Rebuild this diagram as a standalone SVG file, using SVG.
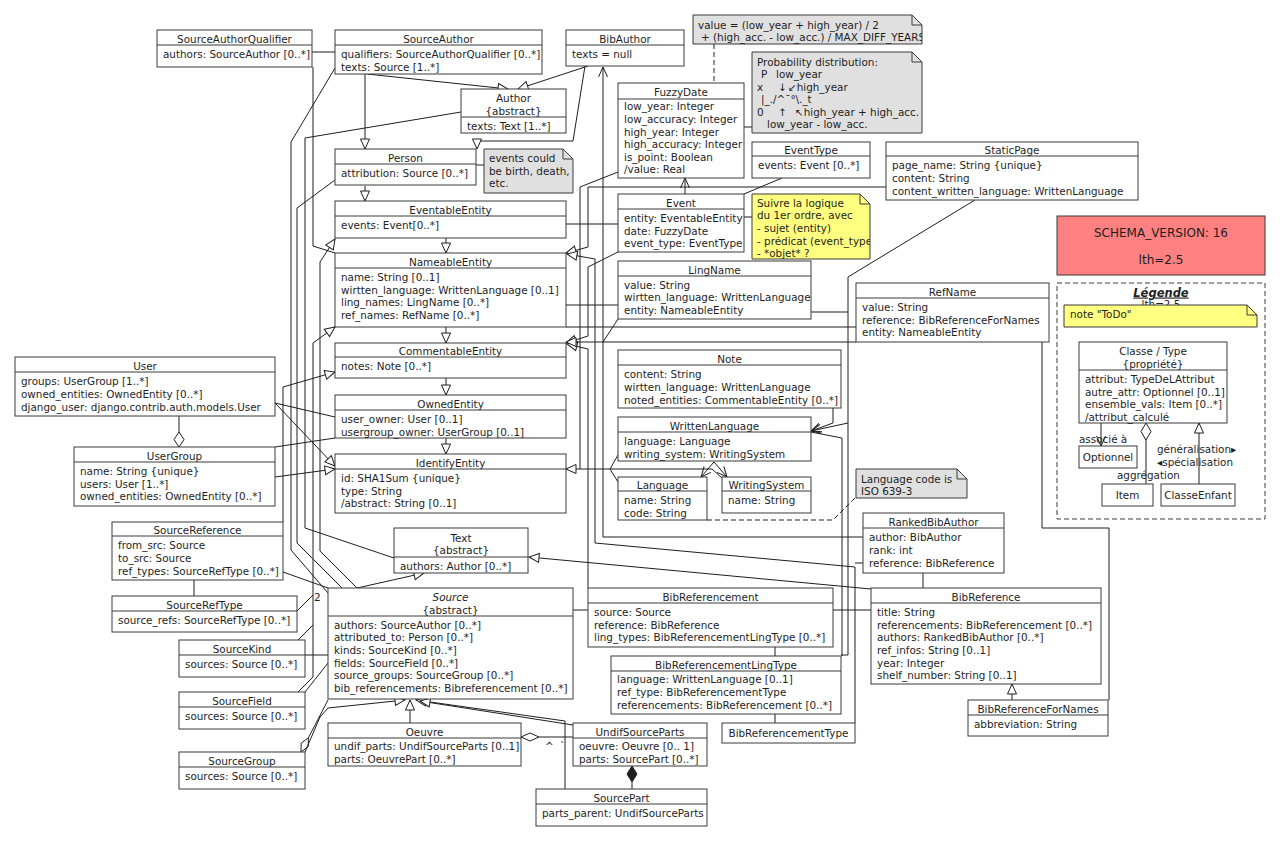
<svg xmlns="http://www.w3.org/2000/svg" width="1280" height="841" viewBox="0 0 1280 841">
<defs>
<style>
.b{fill:#fff;stroke:#3a3a3a;stroke-width:1}
.s{stroke:#3a3a3a;stroke-width:1;fill:none}
text{font-family:"DejaVu Sans","Liberation Sans",sans-serif;font-size:10.4px;fill:#1e1e1e}
.c{text-anchor:middle}
.l{stroke:#1e1e1e;stroke-width:1;fill:none}
.d{stroke-dasharray:5,3}
.ng{fill:#e0e0e0;stroke:#3a3a3a}
.ny{fill:#ffff80;stroke:#3a3a3a}
.t{marker-end:url(#tri)}
.a{marker-end:url(#arr)}
</style>
<marker id="tri" markerUnits="userSpaceOnUse" markerWidth="12" markerHeight="12" viewBox="0 0 12 12" refX="11" refY="6" orient="auto"><path d="M1,1.5 L11,6 L1,10.5 Z" fill="#fff" stroke="#1e1e1e"/></marker>
<marker id="arr" markerUnits="userSpaceOnUse" markerWidth="12" markerHeight="12" viewBox="0 0 12 12" refX="11" refY="6" orient="auto"><path d="M1,1.5 L11,6 L1,10.5" fill="none" stroke="#1e1e1e"/></marker>
<clipPath id="cv"><rect x="693" y="15" width="229" height="30"/></clipPath>
<clipPath id="cy"><rect x="752" y="194" width="118" height="66"/></clipPath>
</defs>
<rect width="1280" height="841" fill="#fff"/>

<g id="connectors">
<path class="l" d="M312,52H335"/>
<path class="l" d="M313,67V246L335,253"/>
<path class="l t" d="M357,588L320,551V262L335,239"/>
<path class="l" d="M335,68L291,142V550L328,593"/>
<path class="l" d="M335,180L297,208V543L342,588"/>
<path class="l" d="M461,112L305,138V528L394,558"/>
<path class="l t" d="M357,588L424,573"/>
<path class="l t" d="M365,74V149"/>
<path class="l t" d="M367,74L508,89"/>
<path class="l t" d="M588,66L518,89"/>
<path class="l t" d="M585,66L573,141H477V149"/>
<path class="l t" d="M365,186V201"/>
<path class="l" d="M476,165H484"/>
<path class="l t" d="M446,238V253"/>
<path class="l t" d="M446,327V343"/>
<path class="l t" d="M446,378V395"/>
<path class="l t" d="M446,438V454"/>
<path class="l t" d="M298,640L313,625V343L335,327"/>
<path class="l" d="M298,692L313,677V625"/>
<path class="l" d="M297,611L313,595"/>
<text x="314" y="601">2</text>
<path class="l" d="M305,655H328"/>
<path class="l" d="M305,692L328,663"/>
<polygon class="l" style="fill:#fff" points="301,752 308.2,746.7 308.4,737.8 301.2,743.1"/>
<path class="l" d="M308.4,737.8L328,700"/>
<path class="l t" d="M305,752L320,717L328,708L405,700"/>
<path class="l t" d="M410,723V700"/>
<path class="l t" d="M565,789V721L416,700"/>
<path class="l t" d="M573,725L420,701"/>
<polygon class="l" style="fill:#fff" points="521,737 530,733 539,737 530,741"/>
<path class="l" d="M539,737H573"/>
<text x="545" y="750">^</text>
<text x="560" y="750">`</text>
<polygon class="l" style="fill:#1e1e1e" points="632,766 637,774 632,782 627,774"/>
<path class="l" d="M632,782V789"/>
<path class="l" d="M573,610H588"/>
<path class="l" d="M833,610H871"/>
<path class="l" d="M775,647V656"/>
<path class="l" d="M775,714V723"/>
<path class="l" d="M923,573V588"/>
<path class="l t" d="M1012,700V684"/>
<path class="l" d="M1042,342V528H1109V700"/>
<path class="l d" d="M707,520H833L856,497"/>
<path class="l" d="M179,416V432"/>
<polygon class="l" style="fill:#fff" points="179,432 184,439.5 179,447 174,439.5"/>
<path class="l" d="M275,403L335,417"/>
<path class="l t" d="M275,403L335,466"/>
<path class="l" d="M275,447L335,438"/>
<path class="l t" d="M275,477L335,469"/>
<path class="l t" d="M283,522V387L335,372"/>
<path class="l" d="M283,572L328,588"/>
<path class="l" d="M194,580V596"/>
<path class="l" d="M566,224H618"/>
<path class="l a" d="M685,194V178"/>
<path class="l" d="M744,194L782,178"/>
<path class="l" d="M744,217H752"/>
<path class="l" d="M744,127H752"/>
<path class="l d" d="M714,44V83"/>
<path class="l t" d="M886,187H588V247L566,253"/>
<path class="l" d="M618,172L580,187V469"/>
<path class="l t" d="M722,478L712,469H566"/>
<path class="l" d="M618,455L610,469L618,482"/>
<path class="l t" d="M618,252L588,267V336L566,343"/>
<path class="l t" d="M588,588V349L567,344"/>
<path class="l t" d="M856,342H566"/>
<path class="l" d="M856,327H566"/>
<path class="l" d="M566,305H618"/>
<path class="l" d="M811,312H848"/>
<path class="l a" d="M975,200L848,277V423L811,431"/>
<path class="l a" d="M833,408V423L811,431"/>
<path class="l" d="M811,432L842,438V656"/>
<path class="l" d="M848,423V655H841"/>
<path class="l a" d="M714,462L701,477"/>
<path class="l a" d="M714,462L727,477"/>
<path class="l t" d="M855,723V567L595,543V259L567,254"/>
<path class="l" d="M863,563H855"/>
<path class="l a" d="M863,537H603V67"/>
<path class="l" d="M618,319L603,342"/>
<path class="l t" d="M871,589L529,557"/>
<path class="l a" d="M1101,423V446"/>
<polygon class="l" style="fill:#fff" points="1146,423 1151,431.5 1146,440 1141,431.5"/>
<path class="l" d="M1146,440V484"/>
<path class="l t" d="M1199,484V423"/>
</g>

<g id="SourceAuthorQualifier"><rect class="b" x="157" y="30" width="155" height="37"/><path class="s" d="M157,45H312"/><text class="c" x="234.5" y="42.5">SourceAuthorQualifier</text><text x="163" y="58">authors: SourceAuthor [0..*]</text></g>
<g id="SourceAuthor"><rect class="b" x="335" y="30" width="207" height="44"/><path class="s" d="M335,45H542"/><text class="c" x="438.5" y="42.5">SourceAuthor</text><text x="341" y="58">qualifiers: SourceAuthorQualifier [0..*]</text><text x="341" y="70.6">texts: Source [1..*]</text></g>
<g id="BibAuthor"><rect class="b" x="566" y="30" width="118" height="36"/><path class="s" d="M566,45H684"/><text class="c" x="625" y="42.5">BibAuthor</text><text x="572" y="58">texts = null</text></g>
<g id="Author"><rect class="b" x="461" y="89" width="105" height="44"/><path class="s" d="M461,117H566"/><text class="c" x="513.5" y="102">Author</text><text class="c" x="513.5" y="114.5">{abstract}</text><text x="467" y="130">texts: Text [1..*]</text></g>
<g id="Person"><rect class="b" x="335" y="149" width="141" height="36"/><path class="s" d="M335,164H476"/><text class="c" x="405.5" y="161.5">Person</text><text x="341" y="177">attribution: Source [0..*]</text></g>
<g id="note-events"><path class="ng" d="M484,149H563L573,159V193H484Z"/><path class="s" d="M563,149V159H573"/><text x="489" y="162">events could</text><text x="489" y="174.7">be birth, death,</text><text x="489" y="187.4">etc.</text></g>
<g id="EventableEntity"><rect class="b" x="335" y="201" width="231" height="37"/><path class="s" d="M335,216H566"/><text class="c" x="450.5" y="213.5">EventableEntity</text><text x="341" y="229">events: Event[0..*]</text></g>
<g id="NameableEntity"><rect class="b" x="335" y="253" width="231" height="74"/><path class="s" d="M335,268H566"/><text class="c" x="450.5" y="265.5">NameableEntity</text><text x="341" y="281">name: String [0..1]</text><text x="341" y="293.6">wirtten_language: WrittenLanguage [0..1]</text><text x="341" y="306.2">ling_names: LingName [0..*]</text><text x="341" y="318.8">ref_names: RefName [0..*]</text></g>
<g id="CommentableEntity"><rect class="b" x="335" y="343" width="231" height="35"/><path class="s" d="M335,357H566"/><text class="c" x="450.5" y="354.5">CommentableEntity</text><text x="341" y="370">notes: Note [0..*]</text></g>
<g id="OwnedEntity"><rect class="b" x="335" y="395" width="231" height="43"/><path class="s" d="M335,410H566"/><text class="c" x="450.5" y="407.5">OwnedEntity</text><text x="341" y="423">user_owner: User [0..1]</text><text x="341" y="435.6">usergroup_owner: UserGroup [0..1]</text></g>
<g id="IdentifyEntity"><rect class="b" x="335" y="454" width="231" height="59"/><path class="s" d="M335,469H566"/><text class="c" x="450.5" y="466.5">IdentifyEntity</text><text x="341" y="482">id: SHA1Sum  {unique}</text><text x="341" y="494.6">type: String</text><text x="341" y="507.2">/abstract: String [0..1]</text></g>
<g id="Text"><rect class="b" x="394" y="528" width="134" height="45"/><path class="s" d="M394,557H528"/><text class="c" x="461" y="542">Text</text><text class="c" x="461" y="554.4">{abstract}</text><text x="400" y="569.5">authors: Author [0..*]</text></g>
<g id="Source"><rect class="b" x="328" y="588" width="245" height="111"/><path class="s" d="M328,616H573"/><text class="c" x="450.5" y="601" font-style="italic">Source</text><text class="c" x="450.5" y="613.7">{abstract}</text><text x="334" y="628.7">authors: SourceAuthor [0..*]</text><text x="334" y="641.4">attributed_to: Person [0..*]</text><text x="334" y="654">kinds: SourceKind [0..*]</text><text x="334" y="666.6">fields: SourceField [0..*]</text><text x="334" y="679.2">source_groups: SourceGroup [0..*]</text><text x="334" y="691.8">bib_referencements: Bibreferencement [0..*]</text></g>
<g id="FuzzyDate"><rect class="b" x="618" y="83" width="126" height="95"/><path class="s" d="M618,99H744"/><text class="c" x="681" y="96">FuzzyDate</text><text x="624" y="110.4">low_year: Integer</text><text x="624" y="123">low_accuracy: Integer</text><text x="624" y="135.5">high_year: Integer</text><text x="624" y="148">high_accuracy: Integer</text><text x="624" y="160.5">is_point: Boolean</text><text x="624" y="173">/value: Real</text></g>
<g id="note-value"><path class="ng" d="M693,15H912L922,25V44H693Z"/><path class="s" d="M912,15V25H922"/><g clip-path="url(#cv)"><text x="698" y="29">value = (low_year + high_year) / 2</text><text x="701" y="40.5">+ (high_acc. - low_acc.) / MAX_DIFF_YEARS</text></g></g>
<g id="note-proba"><path class="ng" d="M752,52H912L922,62V133H752Z"/><path class="s" d="M912,52V62H922"/><text x="757" y="65.5">Probability distribution:</text><text x="761" y="78">P</text><text x="776" y="78">low_year</text><text x="757" y="90.5">x</text><text x="778" y="90.5">↓</text><text x="788" y="90.5">↙high_year</text><text x="761" y="103">|_./^¯°\._t</text><text x="757" y="115.5">0</text><text x="778" y="115.5">↑</text><text x="795" y="115.5">↖high_year + high_acc.</text><text x="767" y="128">low_year - low_acc.</text></g>
<g id="EventType"><rect class="b" x="752" y="142" width="118" height="36"/><path class="s" d="M752,156H870"/><text class="c" x="811" y="153.5">EventType</text><text x="758" y="169">events: Event [0..*]</text></g>
<g id="StaticPage"><rect class="b" x="886" y="142" width="252" height="58"/><path class="s" d="M886,156H1138"/><text class="c" x="1012" y="153.5">StaticPage</text><text x="892" y="169">page_name: String {unique}</text><text x="892" y="181.8">content: String</text><text x="892" y="194.5">content_written_language: WrittenLanguage</text></g>
<g id="Event"><rect class="b" x="618" y="194" width="126" height="58"/><path class="s" d="M618,209H744"/><text class="c" x="681" y="206.5">Event</text><text x="624" y="222">entity: EventableEntity</text><text x="624" y="234.5">date: FuzzyDate</text><text x="624" y="247">event_type: EventType</text></g>
<g id="note-logique"><path class="ny" d="M752,194H860L870,204V259H752Z"/><path class="s" d="M860,194V204H870"/><g clip-path="url(#cy)"><text x="757" y="206.5">Suivre la logique</text><text x="757" y="219.3">du 1er ordre, avec</text><text x="757" y="232">- sujet (entity)</text><text x="757" y="244.7">- prédicat (event_type)</text><text x="757" y="257.2">- *objet* ?</text></g></g>
<g id="LingName"><rect class="b" x="618" y="261" width="193" height="58"/><path class="s" d="M618,276H811"/><text class="c" x="714.5" y="273.5">LingName</text><text x="624" y="288.7">value: String</text><text x="624" y="301.4">wirtten_language: WrittenLanguage</text><text x="624" y="314">entity: NameableEntity</text></g>
<g id="Note"><rect class="b" x="618" y="350" width="223" height="58"/><path class="s" d="M618,365H841"/><text class="c" x="729.5" y="362.5">Note</text><text x="624" y="378">content: String</text><text x="624" y="391">wirtten_language: WrittenLanguage</text><text x="624" y="403.7">noted_entities: CommentableEntity [0..*]</text></g>
<g id="WrittenLanguage"><rect class="b" x="618" y="417" width="193" height="44"/><path class="s" d="M618,432H811"/><text class="c" x="714.5" y="429.5">WrittenLanguage</text><text x="624" y="445.4">language: Language</text><text x="624" y="458">writing_system: WritingSystem</text></g>
<g id="Language"><rect class="b" x="618" y="477" width="89" height="43"/><path class="s" d="M618,491H707"/><text class="c" x="662.5" y="488.5">Language</text><text x="624" y="504.4">name: String</text><text x="624" y="517">code: String</text></g>
<g id="WritingSystem"><rect class="b" x="722" y="477" width="89" height="36"/><path class="s" d="M722,491H811"/><text class="c" x="766.5" y="488.5">WritingSystem</text><text x="728" y="504.4">name: String</text></g>
<g id="note-iso"><path class="ng" d="M856,469H957L967,479V498H856Z"/><path class="s" d="M957,469V479H967"/><text x="861" y="482.5">Language code is</text><text x="861" y="494.5">ISO 639-3</text></g>
<g id="RefName"><rect class="b" x="856" y="283" width="193" height="59"/><path class="s" d="M856,298H1049"/><text class="c" x="952.5" y="295.5">RefName</text><text x="862" y="311">value: String</text><text x="862" y="323.7">reference: BibReferenceForNames</text><text x="862" y="336.2">entity: NameableEntity</text></g>
<g id="RankedBibAuthor"><rect class="b" x="863" y="513" width="141" height="60"/><path class="s" d="M863,528H1004"/><text class="c" x="933.5" y="525.5">RankedBibAuthor</text><text x="869" y="541.4">author: BibAuthor</text><text x="869" y="554.2">rank: int</text><text x="869" y="567">reference: BibReference</text></g>
<g id="BibReference"><rect class="b" x="871" y="588" width="230" height="96"/><path class="s" d="M871,603H1101"/><text class="c" x="986" y="600.5">BibReference</text><text x="877" y="616">title: String</text><text x="877" y="628.7">referencements: BibReferencement [0..*]</text><text x="877" y="641.4">authors: RankedBibAuthor [0..*]</text><text x="877" y="654">ref_infos: String [0..1]</text><text x="877" y="666.7">year: Integer</text><text x="877" y="679.4">shelf_number: String [0..1]</text></g>
<g id="BibReferenceForNames"><rect class="b" x="968" y="700" width="140" height="36"/><path class="s" d="M968,715H1108"/><text class="c" x="1038" y="712.5">BibReferenceForNames</text><text x="974" y="728">abbreviation: String</text></g>
<g id="BibReferencement"><rect class="b" x="588" y="588" width="245" height="59"/><path class="s" d="M588,603H833"/><text class="c" x="710.5" y="600.5">BibReferencement</text><text x="594" y="616.4">source: Source</text><text x="594" y="628.9">reference: BibReference</text><text x="594" y="641.4">ling_types: BibReferencementLingType [0..*]</text></g>
<g id="BibReferencementLingType"><rect class="b" x="611" y="656" width="230" height="58"/><path class="s" d="M611,671H841"/><text class="c" x="726" y="668.5">BibReferencementLingType</text><text x="617" y="683">language: WrittenLanguage [0..1]</text><text x="617" y="695.7">ref_type: BibReferencementType</text><text x="617" y="708.5">referencements: BibReferencement [0..*]</text></g>
<g id="BibReferencementType"><rect class="b" x="722" y="723" width="133" height="20"/><text class="c" x="788.5" y="737">BibReferencementType</text></g>
<g id="UndifSourceParts"><rect class="b" x="573" y="723" width="134" height="43"/><path class="s" d="M573,738H707"/><text class="c" x="640" y="735.5">UndifSourceParts</text><text x="579" y="749.7">oeuvre: Oeuvre [0.. 1]</text><text x="579" y="763">parts: SourcePart [0..*]</text></g>
<g id="SourcePart"><rect class="b" x="536" y="789" width="171" height="37"/><path class="s" d="M536,804H707"/><text class="c" x="621.5" y="801.5">SourcePart</text><text x="542" y="817">parts_parent: UndifSourceParts</text></g>
<g id="Oeuvre"><rect class="b" x="328" y="723" width="193" height="43"/><path class="s" d="M328,738H521"/><text class="c" x="424.5" y="735.5">Oeuvre</text><text x="334" y="749.7">undif_parts: UndifSourceParts [0..1]</text><text x="334" y="763">parts: OeuvrePart [0..*]</text></g>
<g id="SourceReference"><rect class="b" x="112" y="522" width="171" height="58"/><path class="s" d="M112,536H283"/><text class="c" x="197.5" y="533.5">SourceReference</text><text x="118" y="549.4">from_src: Source</text><text x="118" y="561.6">to_src: Source</text><text x="118" y="574.7">ref_types: SourceRefType [0..*]</text></g>
<g id="SourceRefType"><rect class="b" x="112" y="596" width="185" height="36"/><path class="s" d="M112,611H297"/><text class="c" x="204.5" y="608.5">SourceRefType</text><text x="118" y="623.7">source_refs: SourceRefType [0..*]</text></g>
<g id="SourceKind"><rect class="b" x="179" y="640" width="126" height="37"/><path class="s" d="M179,655H305"/><text class="c" x="242" y="652.5">SourceKind</text><text x="185" y="668">sources: Source [0..*]</text></g>
<g id="SourceField"><rect class="b" x="179" y="692" width="126" height="37"/><path class="s" d="M179,707H305"/><text class="c" x="242" y="704.5">SourceField</text><text x="185" y="720">sources: Source [0..*]</text></g>
<g id="SourceGroup"><rect class="b" x="179" y="752" width="126" height="37"/><path class="s" d="M179,767H305"/><text class="c" x="242" y="764.5">SourceGroup</text><text x="185" y="780">sources: Source [0..*]</text></g>
<g id="User"><rect class="b" x="15" y="357" width="260" height="59"/><path class="s" d="M15,372H275"/><text class="c" x="145" y="369.5">User</text><text x="21" y="384.7">groups: UserGroup [1..*]</text><text x="21" y="397.7">owned_entities: OwnedEntity [0..*]</text><text x="21" y="410.7">django_user: django.contrib.auth.models.User</text></g>
<g id="UserGroup"><rect class="b" x="74" y="447" width="201" height="59"/><path class="s" d="M74,462H275"/><text class="c" x="174.5" y="459.5">UserGroup</text><text x="80" y="475.4">name: String {unique}</text><text x="80" y="487.5">users: User [1..*]</text><text x="80" y="500.4">owned_entities: OwnedEntity [0..*]</text></g>
<g id="schema-version"><rect x="1057" y="216" width="208" height="59" fill="#ff8080" stroke="#3a3a3a"/><text class="c" x="1161" y="236.5" style="font-size:12px">SCHEMA_VERSION: 16</text><text class="c" x="1161" y="263.5" style="font-size:12px">lth=2.5</text></g>
<g id="legende"><rect x="1057" y="283" width="208" height="236" fill="none" stroke="#3a3a3a" stroke-dasharray="5,3"/><text class="c" x="1161" y="296.5" font-weight="bold" font-style="italic" text-decoration="underline" style="font-size:11.5px">Légende</text><text class="c" x="1161" y="307.5">lth=2.5</text>
<path class="ny" d="M1064,305H1247L1257,315V327H1064Z"/><path class="s" d="M1247,305V315H1257"/><text x="1070" y="318">note "ToDo"</text>
<g id="legend-classe"><rect class="b" x="1079" y="342" width="148" height="81"/><path class="s" d="M1079,370H1227"/><text class="c" x="1153" y="355.4">Classe / Type</text><text class="c" x="1153" y="367.7">{propriété}</text><text x="1085" y="383">attribut: TypeDeLAttribut</text><text x="1085" y="395.7">autre_attr: Optionnel [0..1]</text><text x="1085" y="408.4">ensemble_vals: Item [0..*]</text><text x="1085" y="421">/attribut_calculé</text></g>
<g id="legend-optionnel"><rect class="b" x="1079" y="446" width="58" height="22"/><text class="c" x="1108" y="460.5">Optionnel</text></g>
<g id="legend-item"><rect class="b" x="1102" y="484" width="51" height="22"/><text class="c" x="1127.5" y="498.5">Item</text></g>
<g id="legend-enfant"><rect class="b" x="1161" y="484" width="74" height="22"/><text class="c" x="1198" y="498.5">ClasseEnfant</text></g>
<text x="1079" y="443">associé à</text>
<text x="1117" y="479">aggrégation</text>
<text x="1157" y="452.5">généralisation▸</text>
<text x="1157" y="465.5">◂spécialisation</text>
</g>
</svg>
